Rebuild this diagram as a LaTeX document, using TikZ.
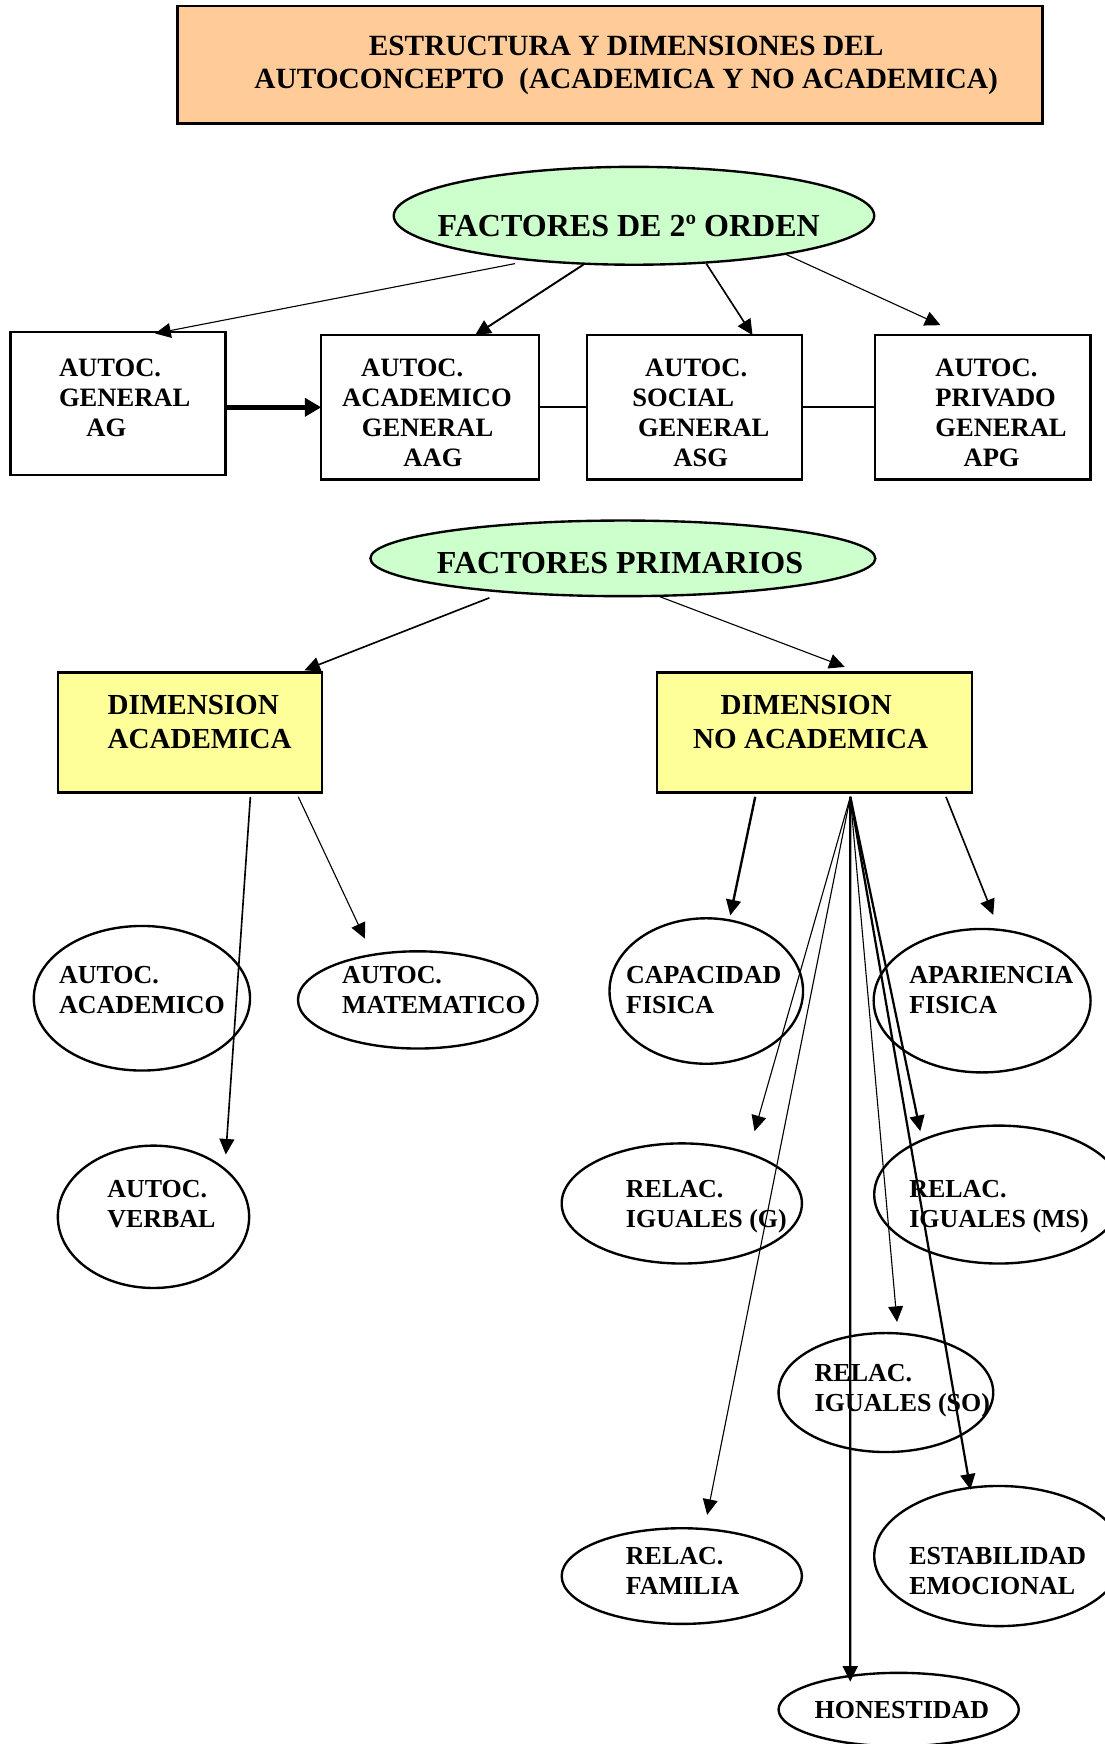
\documentclass[tikz,border=0pt]{standalone}
\usepackage{fontspec}
\setmainfont{Liberation Serif}
\usetikzlibrary{arrows.meta,shapes.geometric,calc}
\definecolor{titlefill}{RGB}{255,204,153}
\definecolor{factfill}{RGB}{204,255,204}
\definecolor{dimfill}{RGB}{255,255,153}

\tikzset{every picture/.style={line width=0.75pt}}
\tikzset{
  shp/.style={draw, line width=1.6pt, inner sep=0pt, outer sep=0pt},
  sqbox/.style={shp, rectangle},
  oval/.style={shp, ellipse},
  txtbox/.style={anchor=base west, inner sep=0pt, align=left, font=\bfseries\fontsize{17.9}{20.4}\selectfont},
  txtoval/.style={anchor=base west, inner sep=0pt, align=left, font=\bfseries\fontsize{17.5}{20.25}\selectfont},
  txtdim/.style={anchor=base west, inner sep=0pt, align=left, font=\bfseries\fontsize{19.6}{22.7}\selectfont},
  txthead/.style={anchor=base, inner sep=0pt, font=\bfseries\fontsize{21.6}{26}\selectfont},
  arr/.style={-{Triangle[length=10.5pt,width=10pt]}},
}

\begin{document}
\begin{tikzpicture}[x=0.75pt,y=0.75pt,yscale=-1,xscale=1]
\useasboundingbox (0,0) rectangle (993,1568);

%Shape: Rectangle [title]
\node[sqbox, fill=titlefill, minimum width=583.3pt, minimum height=79.2pt] (title) at (548.4,58.2) {};
% Text Node (base = last line)
\node[anchor=base, inner sep=0pt, align=center, font=\bfseries\fontsize{19.8}{22.5}\selectfont] (title-t) at (563,79.5) {ESTRUCTURA Y DIMENSIONES DEL\\AUTOCONCEPTO\ \ (ACADEMICA Y NO ACADEMICA)};

%Shape: Ellipse [2nd order]
\node[oval, fill=factfill, minimum width=324pt, minimum height=66pt] (f2) at (570,194) {};
% Text Node
\node[txthead] (f2-t) at (565.3,212.9) {FACTORES DE 2º ORDEN};

%Shape: Rectangles [general factors]
\node[sqbox, minimum width=144.9pt, minimum height=96.7pt] (ag) at (106.1,362.8) {};
\node[sqbox, minimum width=146.8pt, minimum height=97.3pt] (aag) at (386.7,366.2) {};
\node[sqbox, minimum width=144.9pt, minimum height=97.3pt] (asg) at (624.2,366.2) {};
\node[sqbox, minimum width=145.3pt, minimum height=97.3pt] (apg) at (883.6,366.2) {};
% Text Node
\node[txtbox] (ag-t) at (52.6,392.6) {AUTOC.\\GENERAL\\\hspace*{18.5pt}AG};
% Text Node
\node[txtbox] (aag-t) at (307.2,419.8) {\hspace*{12.8pt}AUTOC.\\ACADEMICO\\\hspace*{13.3pt}GENERAL\\\hspace*{41.3pt}AAG};
% Text Node
\node[txtbox] (asg-t) at (568.1,419.8) {\hspace*{8.6pt}AUTOC.\\SOCIAL\\\hspace*{3.8pt}GENERAL\\\hspace*{27.6pt}ASG};
% Text Node
\node[txtbox] (apg-t) at (840.5,419.8) {AUTOC.\\PRIVADO\\GENERAL\\\hspace*{19pt}APG};

%Straight Lines [2nd order arrows]
\draw[arr] ($(f2.south)+(-107,-1)$) -- ($(ag.north)+(33.4,1.5)$);
\draw[arr, line width=1.3pt] ($(f2.south)+(-45.6,0)$) -- ($(aag.north)+(40.5,0)$);
\draw[arr, line width=1.1pt] ($(f2.south)+(65,-1)$) -- ($(asg.north)+(52.4,0)$);
\draw[arr] ($(f2.south)+(135,-10)$) -- ($(apg.north)+(-38,-9)$);
\draw[-{Triangle[length=11pt,width=12pt]}, line width=3.5pt] (ag.east |- aag.west) -- (aag.west);
\draw[line width=1.2pt] (aag.east) -- (asg.west);
\draw[line width=1.2pt] (asg.east) -- (apg.west);

%Shape: Ellipse [primary]
\node[oval, fill=factfill, minimum width=340.5pt, minimum height=51pt] (fp) at (560,502) {};
% Text Node
\node[txthead] (fp-t) at (557.4,515.8) {FACTORES PRIMARIOS};

%Shape: Rectangles [dimensions]
\node[sqbox, fill=dimfill, minimum width=177.9pt, minimum height=80.85pt] (dima) at (170.7,658.5) {};
\node[sqbox, fill=dimfill, minimum width=212.3pt, minimum height=80.85pt] (dimn) at (732.5,658.5) {};
% Text Node
\node[txtdim] (dima-t) at (96.3,672.8) {DIMENSION\\ACADEMICA};
% Text Node
\node[txtdim] (dimn-t) at (622.7,672.8) {\hspace*{18.5pt}DIMENSION\\NO ACADEMICA};

%Straight Lines [primary arrows]
\draw[arr, line width=1.1pt] ($(fp.south)+(-120,1.5)$) -- ($(dima.north)+(103,-2)$);
\draw[arr] ($(fp.south)+(32,0)$) -- ($(dimn.north)+(27,-5)$);

%Shape: Ellipses [facets]
\node[oval, minimum width=145.8pt, minimum height=97.5pt] (acad) at (127.6,897.5) {};
\node[oval, minimum width=161.55pt, minimum height=65.55pt] (mate) at (375.6,899) {};
\node[oval, minimum width=129pt, minimum height=96pt] (verb) at (138,1094) {};
\node[oval, minimum width=130.5pt, minimum height=98.1pt] (capa) at (635,891) {};
\node[oval, minimum width=146.25pt, minimum height=96.75pt] (apar) at (883,899.7) {};
\node[oval, minimum width=162pt, minimum height=81pt] (relg) at (613,1082) {};
\node[oval, minimum width=168pt, minimum height=93pt] (relms) at (898,1074) {};
\node[oval, minimum width=144.75pt, minimum height=80.25pt] (relso) at (796.5,1252) {};
\node[oval, minimum width=162pt, minimum height=64.5pt] (rfam) at (613,1417) {};
\node[oval, minimum width=168pt, minimum height=94.5pt] (estab) at (898,1399) {};
\node[oval, minimum width=162pt, minimum height=49.5pt] (hone) at (808,1537) {};
% Text Node
\node[txtoval] (acad-t) at (52.6,911) {AUTOC.\\ACADEMICO};
% Text Node
\node[txtoval] (mate-t) at (307.2,911) {AUTOC.\\MATEMATICO};
% Text Node
\node[txtoval] (verb-t) at (96,1104) {AUTOC.\\VERBAL};
% Text Node
\node[txtoval] (capa-t) at (562.5,911) {CAPACIDAD\\FISICA};
% Text Node
\node[txtoval] (apar-t) at (817.1,911) {APARIENCIA\\FISICA};
% Text Node
\node[txtoval] (relg-t) at (562.3,1104) {RELAC.\\IGUALES (G)};
% Text Node
\node[txtoval] (relms-t) at (817,1104) {RELAC.\\IGUALES (MS)};
% Text Node
\node[txtoval] (relso-t) at (732,1269) {RELAC.\\IGUALES (SO)};
% Text Node
\node[txtoval] (rfam-t) at (562.3,1434) {RELAC.\\FAMILIA};
% Text Node
\node[txtoval] (estab-t) at (817,1434) {ESTABILIDAD\\EMOCIONAL};
% Text Node
\node[txtoval] (hone-t) at (732,1545) {HONESTIDAD};

%Straight Lines [academic]
\draw[arr, line width=1.1pt] ($(dima.south)+(54.4,4)$) -- ($(verb.north)+(65,8)$);
\draw[arr] ($(dima.south)+(97.5,4)$) -- ($(mate.north)+(-47.5,-11.4)$);

%Straight Lines [non academic]
\coordinate (fan) at ($(dimn.south)+(32,4)$);
\draw[arr, line width=1.6pt] ($(dimn.south)+(-53.5,4)$) -- ($(capa.north)+(21.6,-2.6)$);
\draw[arr, line width=1.1pt] ($(dimn.south)+(118,4)$) -- ($(apar.north)+(10,-12.6)$);
\draw[arr] (fan) -- ($(relg.north)+(65.4,-11)$);
\draw[arr, line width=1.5pt] (fan) -- ($(relms.north)+(-70.6,5)$);
\draw[arr] (fan) -- ($(relso.north)+(10,-10)$);
\draw[arr] (fan) -- ($(rfam.north)+(22.8,-12)$);
\draw[arr, line width=1.5pt] (fan) -- ($(estab.north)+(-25.5,3.3)$);
\draw[arr, line width=1.5pt] (fan) -- ($(hone.north)+(-43.6,8)$);

\end{tikzpicture}
\end{document}
